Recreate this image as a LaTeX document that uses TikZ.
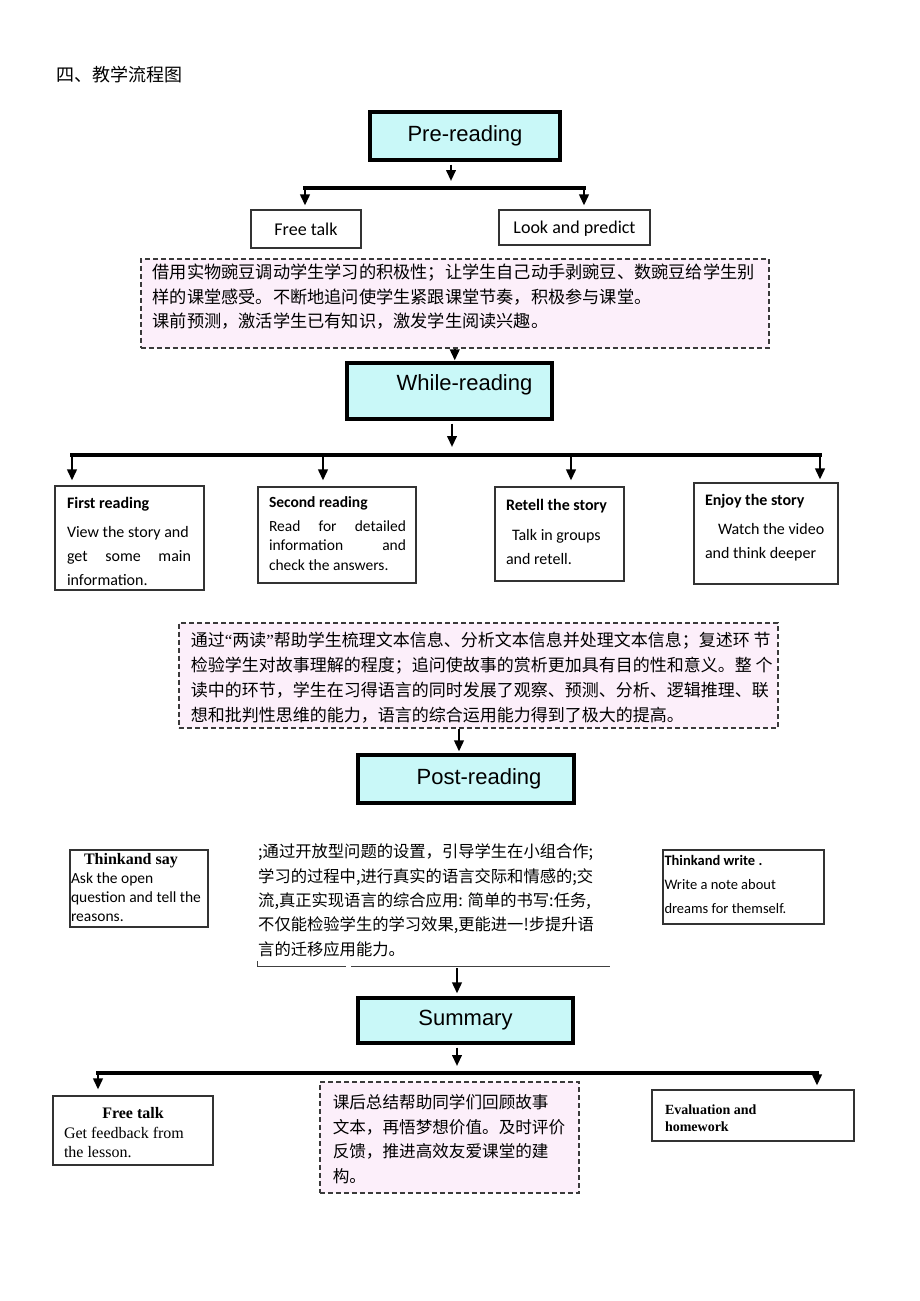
\documentclass[tikz,border=0pt]{standalone}
\usepackage{fontspec}
\setmainfont{Liberation Serif}
\newfontfamily\cjkf{Noto Sans CJK SC}
\newfontfamily\arialf{Liberation Sans}
\newfontfamily\calf{Carlito}
\usetikzlibrary{arrows.meta}
\definecolor{hcyan}{HTML}{C9F8F8}
\definecolor{hpink}{HTML}{FCEFFA}
\definecolor{dashc}{HTML}{3A3A3A}
\newcommand\tbox[5]{\parbox[c][#2][t]{#1}{\vspace*{#3}\leftskip=#4\relax\parindent=0pt\rightskip=0pt plus 1fil\relax\leavevmode #5\par}}
\tikzset{
 head/.style={draw=black, line width=3.2pt, fill=hcyan, inner sep=0pt, font=\arialf\fontsize{22}{26}\selectfont},
 tb/.style={draw=black!80, line width=1.1pt, inner sep=0pt},
 note/.style={draw=dashc, line width=1.5pt, dash pattern=on 5pt off 3pt, fill=hpink, inner sep=0pt},
 bar/.style={line width=3.5pt, line cap=rect},
 arr/.style={line width=2.3pt, -{Triangle[length=11pt,width=9.5pt]}},
 wtext/.style={font=\calf\fontsize{16}{24}\selectfont},
}
\begin{document}
\begin{tikzpicture}[x=1pt,y=-1pt]
\useasboundingbox[fill=white] (0,0) rectangle (920,1301);
\node[anchor=west, font=\cjkf\fontsize{18}{20}\selectfont, inner sep=0pt] (title) at (56,75) {四、教学流程图};

% Pre-reading
\node[head, minimum width=190pt, minimum height=48pt] (pre) at (465,136) {Pre-reading};
\coordinate (b1M) at (451,188);
\coordinate (b1L) at (305,188);
\coordinate (b1R) at (584,188);
\node[tb, minimum width=110pt, minimum height=38pt, font=\calf\fontsize{18}{20}\selectfont] (ft) at (306,229) {Free talk};
\node[tb, minimum width=151pt, minimum height=35pt, font=\calf\fontsize{18}{20}\selectfont, text height=15pt, text depth=3.4pt] (lp) at (574.5,227.5) {Look and predict};
\draw[arr, shorten <=3pt, shorten >=7pt] (pre.south -| b1M) -- (b1M);
\draw[bar] (b1L) -- (b1R);
\draw[arr, shorten >=4pt] (b1L) -- (b1L |- ft.north);
\draw[arr, shorten >=4pt] (b1R) -- (b1R |- lp.north);

\node[note, anchor=north west, font=\cjkf\fontsize{17.2}{24.5}\selectfont] (n1) at (140,258) {\tbox{628pt}{89pt}{5.4pt}{12pt}{借用实物豌豆调动学生学习的积极性；让学生自己动手剥豌豆、数豌豆给学生别\\样的课堂感受。不断地追问使学生紧跟课堂节奏，积极参与课堂。\\课前预测，激活学生已有知识，激发学生阅读兴趣。}};

% While-reading
\node[head, minimum width=205pt, minimum height=56pt, text height=16pt, text depth=16.6pt] (wr) at (449.5,391) {\hspace*{30pt}While-reading};
\draw[arr, shorten >=1pt] (n1.south) -- (n1.south |- wr.north);
\coordinate (b2M) at (452,455);
\coordinate (b2L) at (72,455);
\coordinate (b2a) at (323,455);
\coordinate (b2b) at (571,455);
\coordinate (b2R) at (820,455);
\draw[arr, shorten <=3pt, shorten >=8pt] (wr.south -| b2M) -- (b2M);
\draw[bar] (b2L) -- (b2R);

\node[tb, wtext] (fr) at (129.5,538) {\tbox{149pt}{104pt}{11pt}{12pt}{\textbf{First reading}\\[5pt] View the story and\\ \hbox to 124pt{get\hfil some\hfil main}\\ information.}};
\node[tb, wtext] (sr) at (337,535) {\tbox{158pt}{96pt}{10pt}{11pt}{\fontsize{15.5}{19.5}\selectfont\textbf{Second reading}\\[4pt] \hbox to 137pt{Read\hfil for\hfil detailed}\\ \hbox to 137pt{information\hfil and}\\ check the answers.}};
\node[tb, wtext] (rt) at (559.5,534) {\tbox{129pt}{94pt}{12pt}{11pt}{\textbf{Retell the story}\\[6pt] \hspace*{6pt}Talk in groups\\ and retell.}};
\node[tb, wtext] (es) at (766,533.5) {\tbox{144pt}{101pt}{11pt}{11pt}{\textbf{Enjoy the story}\\[5pt] \hspace*{13pt}Watch the video\\ and think deeper}};
\draw[arr, shorten >=5pt] (b2L) -- (b2L |- fr.north);
\draw[arr, shorten >=6pt] (b2a) -- (b2a |- sr.north);
\draw[arr, shorten >=6pt] (b2b) -- (b2b |- rt.north);
\draw[arr, shorten >=3pt] (b2R) -- (b2R |- es.north);

\node[note, anchor=north west, font=\cjkf\fontsize{17}{25.3}\selectfont] (n2) at (178,622) {\tbox{599pt}{105pt}{8.8pt}{12pt}{通过{\rmfamily “}两读{\rmfamily ”}帮助学生梳理文本信息、分析文本信息并处理文本信息；复述环 节\\检验学生对故事理解的程度；追问使故事的赏析更加具有目的性和意义。整 个\\读中的环节，学生在习得语言的同时发展了观察、预测、分析、逻辑推理、联\\想和批判性思维的能力，语言的综合运用能力得到了极大的提高。}};

% Post-reading
\node[head, minimum width=216pt, minimum height=48pt] (post) at (466,779) {\hspace*{26pt}Post-reading};
\coordinate (a3x) at (459,0);
\draw[arr, shorten >=2pt] (n2.south -| a3x) -- (post.north -| a3x);

\node[tb] (ts) at (139,888.5) {\tbox{138pt}{77pt}{3pt}{1pt}{\calf\fontsize{15.5}{19}\selectfont\hspace*{13pt}{\rmfamily\bfseries\fontsize{16}{19}\selectfont Thinkand say}\\ Ask the open\\ question and tell the\\ reasons.}};
\node[tb, font=\calf\fontsize{14.5}{24}\selectfont] (tw) at (743.5,887) {\tbox{161pt}{74pt}{5.5pt}{1.5pt}{\textbf{Thinkand write .}\\ Write a note about\\ dreams for themself.}};
\node[inner sep=0pt, anchor=north west, font=\cjkf\fontsize{16.3}{24.3}\selectfont] (pt) at (258,838) {\tbox{365pt}{125pt}{5.8pt}{0pt}{;通过开放型问题的设置，引导学生在小组合作;\\学习的过程中,进行真实的语言交际和情感的;交\\流,真正实现语言的综合应用: 简单的书写:任务,\\不仅能检验学生的学习效果,更能进一!步提升语\\言的迁移应用能力。}};
\draw[line width=0.6pt, black!75] (258,966) -- (346,966) (351,966) -- (610,966);
\draw[line width=0.6pt, black!75] (257,961) -- (257,967);

% Summary
\node[head, minimum width=215pt, minimum height=45pt] (sum) at (465.5,1020.5) {Summary};
\coordinate (a4) at (457,968);
\draw[arr, shorten >=3pt] (a4) -- (a4 |- sum.north);
\coordinate (b3M) at (457,1073);
\coordinate (b3L) at (98,1073);
\coordinate (b3R) at (817,1073);
\draw[arr, shorten <=3pt, shorten >=7pt] (sum.south -| b3M) -- (b3M);
\draw[bar] (b3L) -- (b3R);

\node[tb] (fb) at (133,1130.5) {\tbox{160pt}{69pt}{11.5pt}{11pt}{\fontsize{16}{19.5}\selectfont\hbox to 138pt{\hfil\bfseries Free talk\hfil}\\Get feedback from\\the lesson.}};
\node[tb] (ev) at (753,1115.5) {\tbox{202pt}{51pt}{15pt}{13pt}{\bfseries\fontsize{14}{17}\selectfont Evaluation and\\homework}};
\draw[arr, shorten >=6pt] (b3L) -- (b3L |- fb.north);
\draw[arr, shorten >=4pt] (b3R) -- (b3R |- ev.north);

\node[note, anchor=north west, font=\cjkf\fontsize{16.6}{24.5}\selectfont] (n3) at (319,1081) {\tbox{259pt}{111pt}{12.7pt}{13pt}{课后总结帮助同学们回顾故事\\文本，再悟梦想价值。及时评价\\反馈，推进高效友爱课堂的建\\构。}};
\end{tikzpicture}
\end{document}
